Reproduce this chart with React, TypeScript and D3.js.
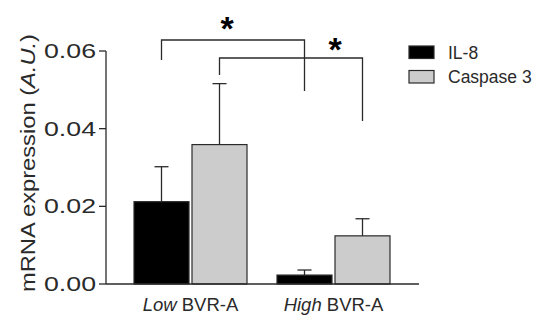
import React from "react";
import * as d3 from "d3";

const groups = ["Low", "High"];
const series = ["IL-8", "Caspase 3"];
const means = [
  [0.0212, 0.0359],
  [0.0023, 0.0124],
];
const errors = [
  [0.009, 0.0157],
  [0.0013, 0.0044],
];
const yTicks = [0, 0.02, 0.04, 0.06];
const colors = ["#000000", "#cccccc"];

const width = 542;
const height = 320;
const font = "'Liberation Sans', Arial, sans-serif";
const ink = "#2a2a2a";

const App = () => {
  const y = d3.scaleLinear().domain([0, 0.06]).range([284, 51]);
  const x = d3.scaleBand().domain(groups).range([119, 405]);
  const xs = d3.scaleBand().domain(series).range([15, 128]).paddingInner(3 / 58);

  const barCenter = (gi: number, si: number) =>
    (x(groups[gi]) as number) + (xs(series[si]) as number) + xs.bandwidth() / 2;

  // significance brackets between the two groups, one per series
  const brackets = [
    { a: [0, 0], b: [1, 0], top: 40, legA: 60, legB: 91, star: [227, 20.5] },
    { a: [0, 1], b: [1, 1], top: 58, legA: 75, legB: 121, star: [335, 41] },
  ];

  return (
    <svg width={width} height={height} style={{ display: "block", position: "absolute", left: 0, top: 0 }}>
      <rect width={width} height={height} fill="#fff" />

      {/* bars */}
      {means.map((row, gi) =>
        row.map((v, si) => {
          const cx = barCenter(gi, si);
          const x0 = cx - xs.bandwidth() / 2;
          const yTop = y(v + errors[gi][si]);
          return (
            <g key={`${gi}-${si}`}>
              <line x1={cx} x2={cx} y1={y(v)} y2={yTop} stroke={ink} strokeWidth={1.3} />
              <line x1={cx - 7} x2={cx + 7} y1={yTop} y2={yTop} stroke={ink} strokeWidth={1.3} />
              <rect
                x={x0}
                y={y(v)}
                width={xs.bandwidth()}
                height={y(0) - y(v)}
                fill={colors[si]}
                stroke={ink}
                strokeWidth={1.2}
              />
            </g>
          );
        })
      )}

      {/* y axis */}
      <line x1={106} x2={106} y1={y(0.06)} y2={y(0)} stroke={ink} strokeWidth={1.3} />
      {yTicks.map((t) => (
        <g key={t}>
          <line x1={99} x2={106} y1={y(t)} y2={y(t)} stroke={ink} strokeWidth={1.3} />
          <text
            x={96}
            y={y(t) + 7}
            textAnchor="end"
            fontFamily={font}
            fontSize={19.5}
            fill={ink}
            textLength={52}
            lengthAdjust="spacingAndGlyphs"
          >
            {d3.format(".2f")(t)}
          </text>
        </g>
      ))}
      <text
        transform={`translate(35,163) rotate(-90)`}
        textAnchor="middle"
        fontFamily={font}
        fontSize={19.5}
        fill={ink}
        textLength={258}
        lengthAdjust="spacingAndGlyphs"
      >
        mRNA expression (<tspan fontStyle="italic">A.U.</tspan>)
      </text>

      {/* x axis */}
      <line x1={106} x2={419} y1={y(0)} y2={y(0)} stroke={ink} strokeWidth={1.3} />
      {groups.map((g) => (
        <text
          key={g}
          x={(x(g) as number) + x.bandwidth() / 2}
          y={311}
          textAnchor="middle"
          fontFamily={font}
          fontSize={18.5}
          fill={ink}
        >
          <tspan fontStyle="italic">{g}</tspan> BVR-A
        </text>
      ))}

      {/* brackets */}
      {brackets.map((b, i) => {
        const xa = barCenter(b.a[0], b.a[1]);
        const xb = barCenter(b.b[0], b.b[1]);
        return (
          <g key={i}>
            <path
              d={`M${xa},${b.legA}V${b.top}H${xb}V${b.legB}`}
              fill="none"
              stroke={ink}
              strokeWidth={1.3}
            />
            <text
              x={b.star[0]}
              y={b.star[1] + 19.5}
              textAnchor="middle"
              fontFamily={font}
              fontWeight="bold"
              fontSize={34}
              fill="#000"
            >
              *
            </text>
          </g>
        );
      })}

      {/* legend */}
      {series.map((s, i) => (
        <g key={s} transform={`translate(409,${46 + i * 24.5})`}>
          <rect width={25} height={12.5} fill={colors[i]} stroke={ink} strokeWidth={1.2} />
          <text x={39} y={12.5} fontFamily={font} fontSize={17.5} fill={ink}>
            {s}
          </text>
        </g>
      ))}
    </svg>
  );
};

export default App;
